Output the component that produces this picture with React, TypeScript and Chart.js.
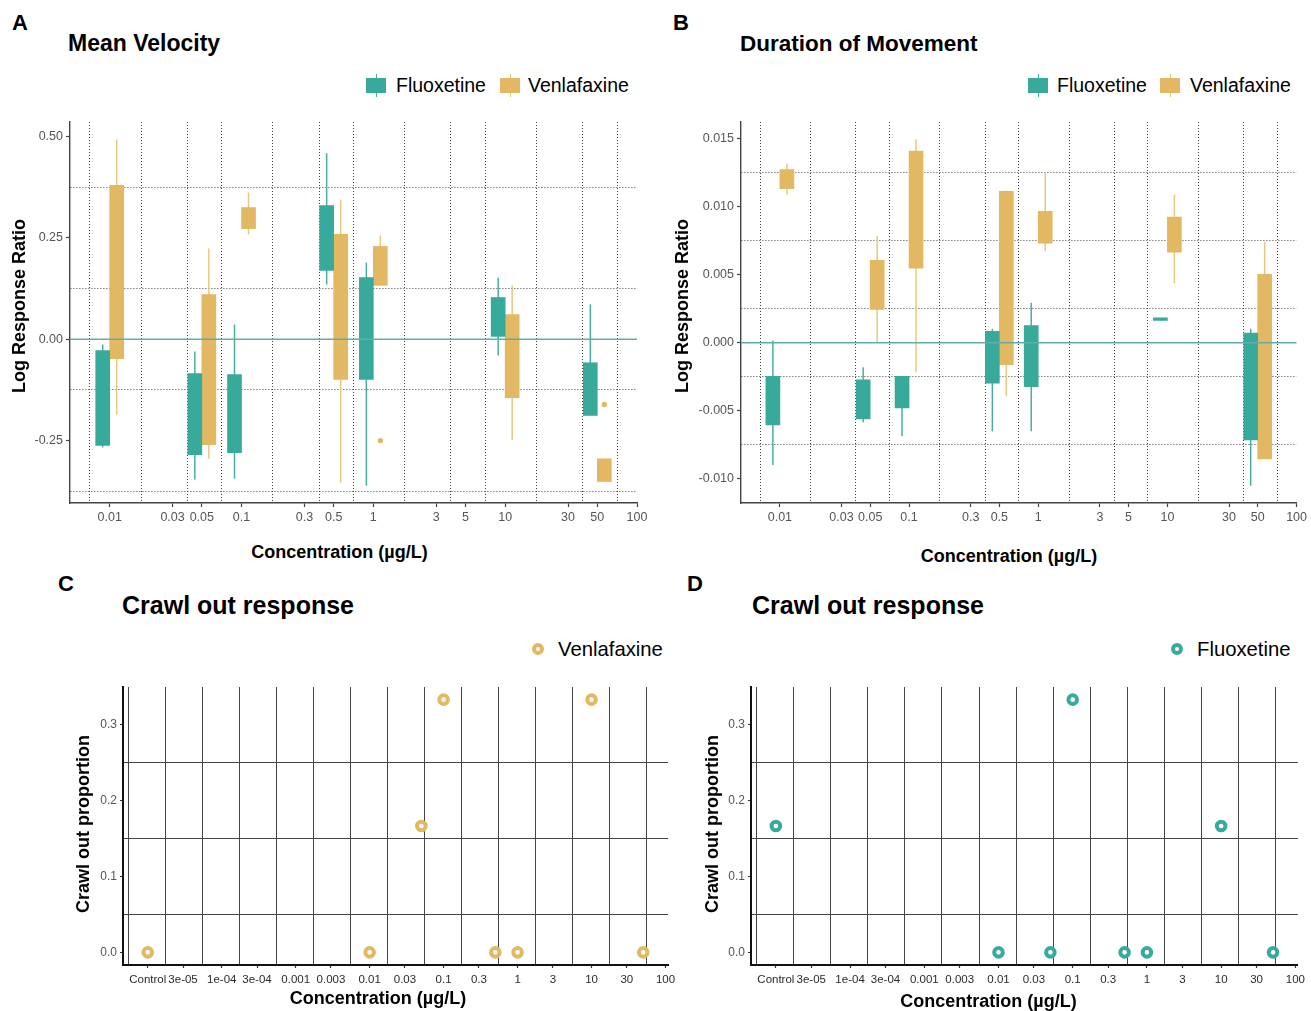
import React, { useEffect, useRef } from "react";
import { Chart, registerables } from "chart.js";

Chart.register(...registerables);

const FONT = "'Liberation Sans', Arial, Helvetica, sans-serif";
Chart.defaults.font.family = FONT;

const TEAL = "#38AA9C";
const GOLD = "#E2B962";
const TEAL_WHISKER = "#48AEA2";
const GOLD_WHISKER = "#E7C880";
const ZERO_LINE = "#5FAEA8";
const DOT_GRID = "#404040";
const SOLID_GRID = "#444444";

// ---------------- Data ----------------
const concentrations = [0.01, 0.05, 0.1, 0.5, 1, 10, 50];

// Panel A – Mean velocity: box = [lower hinge, upper hinge], whisker = [min, max]
const mvFluoxetineBox = [[-0.262, -0.028], [-0.285, -0.085], [-0.28, -0.087], [0.17, 0.33], [-0.099, 0.152], [0.007, 0.103], [-0.188, -0.058]];
const mvFluoxetineWhisker = [[-0.267, -0.013], [-0.346, -0.03], [-0.344, 0.036], [0.135, 0.459], [-0.361, 0.189], [-0.04, 0.152], [-0.188, 0.086]];
const mvFluoxetineOutliers = [[], [], [], [], [], [], []];
const mvVenlafaxineBox = [[-0.048, 0.38], [-0.26, 0.11], [0.273, 0.325], [-0.099, 0.259], [0.133, 0.229], [-0.144, 0.061], [-0.351, -0.295]];
const mvVenlafaxineWhisker = [[-0.186, 0.493], [-0.295, 0.224], [0.259, 0.362], [-0.354, 0.345], [0.133, 0.256], [-0.248, 0.133], [-0.351, -0.295]];
const mvVenlafaxineOutliers = [[], [], [], [], [-0.25], [], [-0.161]];

// Panel B – Duration of movement
const dmFluoxetineBox = [[-0.00604, -0.00246], [-0.0056, -0.00272], [-0.00479, -0.00246], [-0.00297, 0.00085], [-0.00322, 0.00127], [0.00164, 0.00184], [-0.00714, 0.00071]];
const dmFluoxetineWhisker = [[-0.00898, 0.00017], [-0.00585, -0.0018], [-0.00688, -0.00246], [-0.00651, 0.00103], [-0.00651, 0.00295], [0.00164, 0.00184], [-0.01051, 0.00103]];
const dmFluoxetineOutliers = [[], [], [], [], [], [], []];
const dmVenlafaxineBox = [[0.01134, 0.01274], [0.00245, 0.00606], [0.00549, 0.01411], [-0.0016, 0.01114], [0.00733, 0.00967], [0.00667, 0.00925], [-0.00854, 0.00503]];
const dmVenlafaxineWhisker = [[0.0109, 0.01318], [0.0, 0.00785], [-0.00216, 0.01497], [-0.00393, 0.01121], [0.00675, 0.01256], [0.00439, 0.0109], [-0.00854, 0.00741]];
const dmVenlafaxineOutliers = [[], [], [], [], [], [], []];

// Panels C & D – Crawl out proportion ("Control" is placed at 1e-5 on the log axis)
const crawlConcentrations = [1e-5, 0.01, 0.05, 0.1, 0.5, 1, 10, 50];
const crawlVenlafaxine = [0, 0, 0.1667, 0.3333, 0, 0, 0.3333, 0];
const crawlFluoxetine = [0.1667, 0, 0, 0.3333, 0, 0, 0.1667, 0];

// ---------------- Axis ticks ----------------
const logTicks = [0.01, 0.03, 0.05, 0.1, 0.3, 0.5, 1, 3, 5, 10, 30, 50, 100];
const logTickLabels = ["0.01", "0.03", "0.05", "0.1", "0.3", "0.5", "1", "3", "5", "10", "30", "50", "100"];
const logBreakBefore = 0.005;
const mvYTicks = [-0.25, 0, 0.25, 0.5];
const mvYTickLabels = ["-0.25", "0.00", "0.25", "0.50"];
const mvYMinor = [-0.375, -0.125, 0.125, 0.375];
const dmYTicks = [-0.01, -0.005, 0, 0.005, 0.01, 0.015];
const dmYTickLabels = ["-0.010", "-0.005", "0.000", "0.005", "0.010", "0.015"];
const dmYMinor = [-0.0075, -0.0025, 0.0025, 0.0075, 0.0125];
const crawlTicks = [1e-5, 3e-5, 1e-4, 3e-4, 0.001, 0.003, 0.01, 0.03, 0.1, 0.3, 1, 3, 10, 30, 100];
const crawlTickLabels = ["Control", "3e-05", "1e-04", "3e-04", "0.001", "0.003", "0.01", "0.03", "0.1", "0.3", "1", "3", "10", "30", "100"];
const crawlBreakBefore = 3e-6;
const crawlYTicks = [0, 0.1, 0.2, 0.3];
const crawlYTickLabels = ["0.0", "0.1", "0.2", "0.3"];
const crawlYMinor = [0.05, 0.15, 0.25];

// minor gridlines sit at geometric midpoints between breaks (log axis)
function geoMidpoints(breaks: number[], before: number) {
  const all = [before, ...breaks];
  const out: number[] = [];
  for (let i = 1; i < all.length; i++) out.push(Math.sqrt(all[i - 1] * all[i]));
  return out;
}

function mkTicks(major: number[], labels: string[], minor: number[]) {
  return [
    ...major.map((v, i) => ({ value: v, lab: labels[i] })),
    ...minor.map((v) => ({ value: v, lab: "" })),
  ].sort((a, b) => a.value - b.value);
}

function axis(o: any) {
  return {
    type: o.type,
    min: o.min,
    max: o.max,
    offset: false,
    afterBuildTicks: (s: any) => {
      s.ticks = o.ticks.map((t: any) => ({ ...t }));
    },
    afterFit: (s: any) => {
      if (o.horizontal) s.height = o.fit;
      else s.width = o.fit;
    },
    grid: {
      display: true,
      drawOnChartArea: true,
      offset: false,
      lineWidth: 1,
      color: (c: any) => (c.tick && c.tick.lab === "" ? o.gridColor : "rgba(0,0,0,0)"),
      drawTicks: true,
      tickLength: o.tickLen,
      tickWidth: 1.2,
      tickColor: (c: any) => (c.tick && c.tick.lab !== "" ? o.tickColor : "rgba(0,0,0,0)"),
    },
    border: { display: true, color: o.borderColor, width: o.borderWidth, dash: o.dash },
    ticks: {
      autoSkip: false,
      maxRotation: 0,
      minRotation: 0,
      padding: o.pad,
      color: o.labelColor,
      font: { size: o.labelSize, family: FONT },
      callback: (_v: any, i: number, arr: any[]) => (arr[i] && arr[i].lab) || "",
    },
  };
}

const boxExtras = {
  id: "boxExtras",
  beforeDatasetsDraw(chart: any) {
    const ctx = chart.ctx;
    const y = chart.scales.y;
    chart.data.datasets.forEach((ds: any, i: number) => {
      if (!ds.whiskers) return;
      const meta = chart.getDatasetMeta(i);
      ctx.save();
      ctx.strokeStyle = ds.whiskerColor;
      ctx.lineWidth = 1.5;
      meta.data.forEach((el: any, j: number) => {
        const w = ds.whiskers[j];
        if (!w) return;
        ctx.beginPath();
        ctx.moveTo(el.x, y.getPixelForValue(w[0]));
        ctx.lineTo(el.x, y.getPixelForValue(w[1]));
        ctx.stroke();
      });
      ctx.restore();
    });
  },
  afterDatasetsDraw(chart: any) {
    const ctx = chart.ctx;
    const y = chart.scales.y;
    const area = chart.chartArea;
    chart.data.datasets.forEach((ds: any, i: number) => {
      if (!ds.outliers) return;
      const meta = chart.getDatasetMeta(i);
      ctx.save();
      ctx.fillStyle = ds.backgroundColor;
      meta.data.forEach((el: any, j: number) => {
        (ds.outliers[j] || []).forEach((v: number) => {
          ctx.beginPath();
          ctx.arc(el.x, y.getPixelForValue(v), 2.7, 0, Math.PI * 2);
          ctx.fill();
        });
      });
      ctx.restore();
    });
    const y0 = y.getPixelForValue(0);
    ctx.save();
    ctx.strokeStyle = ZERO_LINE;
    ctx.lineWidth = 1.5;
    ctx.beginPath();
    ctx.moveTo(area.left, y0);
    ctx.lineTo(area.right, y0);
    ctx.stroke();
    ctx.restore();
  },
};

function boxConfig(p: any) {
  const mk = (label: string, box: number[][], wh: number[][], out: number[][], color: string, wcolor: string) => ({
    label,
    data: concentrations.map((c, i) => ({ x: c, y: box[i] })),
    backgroundColor: color,
    borderWidth: 0,
    barThickness: 14,
    whiskers: wh,
    whiskerColor: wcolor,
    outliers: out,
  });
  return {
    type: "bar",
    data: {
      datasets: [
        mk("Fluoxetine", p.fBox, p.fWh, p.fOut, TEAL, TEAL_WHISKER),
        mk("Venlafaxine", p.vBox, p.vWh, p.vOut, GOLD, GOLD_WHISKER),
      ],
    },
    options: {
      responsive: false,
      maintainAspectRatio: false,
      animation: false,
      events: [],
      layout: { padding: { left: 0, top: 12, right: p.padRight, bottom: 0 } },
      plugins: { legend: { display: false }, tooltip: { enabled: false }, title: { display: false } },
      scales: {
        x: axis({
          type: "logarithmic", min: 0.005, max: 100, horizontal: true, fit: 32,
          ticks: mkTicks(logTicks, logTickLabels, geoMidpoints(logTicks, logBreakBefore)),
          gridColor: DOT_GRID, dash: [1, 2], borderColor: "#444", borderWidth: 1.4,
          tickColor: "#444", tickLen: 4, pad: 3, labelColor: "#555", labelSize: 12.5,
        }),
        y: axis({
          type: "linear", min: p.yMin, max: p.yMax, horizontal: false, fit: p.yWidth,
          ticks: mkTicks(p.yTicks, p.yLabels, p.yMinor),
          gridColor: DOT_GRID, dash: [1, 2], borderColor: "#444", borderWidth: 1.4,
          tickColor: "#444", tickLen: 4, pad: 3, labelColor: "#555", labelSize: 12.5,
        }),
      },
    },
    plugins: [boxExtras],
  };
}

function crawlConfig(label: string, values: number[], color: string, yWidth: number, padRight: number) {
  return {
    type: "scatter",
    data: {
      datasets: [
        {
          label,
          data: crawlConcentrations.map((c, i) => ({ x: c, y: values[i] })),
          pointRadius: 4.3,
          pointBorderWidth: 4,
          pointBackgroundColor: "#ffffff",
          pointBorderColor: color,
          showLine: false,
        },
      ],
    },
    options: {
      responsive: false,
      maintainAspectRatio: false,
      animation: false,
      events: [],
      layout: { padding: { left: 0, top: 12, right: padRight, bottom: 0 } },
      plugins: { legend: { display: false }, tooltip: { enabled: false }, title: { display: false } },
      scales: {
        x: axis({
          type: "logarithmic", min: 4.624e-6, max: 108.1, horizontal: true, fit: 30,
          ticks: mkTicks(crawlTicks, crawlTickLabels, geoMidpoints(crawlTicks, crawlBreakBefore)),
          gridColor: SOLID_GRID, dash: [], borderColor: "#111", borderWidth: 2,
          tickColor: "#333", tickLen: 3, pad: 5, labelColor: "#2a2a2a", labelSize: 11.5,
        }),
        y: axis({
          type: "linear", min: -0.0167, max: 0.35, horizontal: false, fit: yWidth,
          ticks: mkTicks(crawlYTicks, crawlYTickLabels, crawlYMinor),
          gridColor: SOLID_GRID, dash: [], borderColor: "#111", borderWidth: 2,
          tickColor: "#333", tickLen: 3, pad: 3, labelColor: "#555", labelSize: 12,
        }),
      },
    },
  };
}

function ChartBox({ left, top, width, height, make }: any) {
  const ref = useRef<HTMLCanvasElement>(null);
  useEffect(() => {
    const chart = new Chart(ref.current as HTMLCanvasElement, make());
    return () => chart.destroy();
  }, []);
  return <canvas ref={ref} width={width} height={height} style={{ position: "absolute", left, top, width, height }} />;
}

function Txt({ x, base, size, bold, center, color, children }: any) {
  return (
    <div
      style={{
        position: "absolute",
        left: x,
        top: base - 0.8465 * size,
        fontSize: size,
        lineHeight: size + "px",
        fontFamily: FONT,
        fontWeight: bold ? 700 : 400,
        whiteSpace: "nowrap",
        color: color || "#000",
        transform: center ? "translateX(-50%)" : undefined,
      }}
    >
      {children}
    </div>
  );
}

function VTxt({ cx, cy, size, children }: any) {
  return (
    <div
      style={{
        position: "absolute",
        left: cx,
        top: cy,
        fontSize: size,
        lineHeight: size + "px",
        fontFamily: FONT,
        fontWeight: 700,
        whiteSpace: "nowrap",
        color: "#000",
        transform: "translate(-50%,-50%) rotate(-90deg)",
      }}
    >
      {children}
    </div>
  );
}

function BoxKey({ x, y, color, whisker }: any) {
  return (
    <>
      <div style={{ position: "absolute", left: x + 9.5, top: y - 4, width: 1.2, height: 23, background: whisker }} />
      <div style={{ position: "absolute", left: x, top: y, width: 20, height: 15, background: color }} />
    </>
  );
}

function RingKey({ cx, cy, color }: any) {
  return (
    <div
      style={{
        position: "absolute",
        left: cx - 6,
        top: cy - 6,
        width: 12,
        height: 12,
        boxSizing: "border-box",
        borderRadius: "50%",
        border: `4px solid ${color}`,
        background: "#fff",
      }}
    />
  );
}

export default function App() {
  return (
    <div style={{ position: "absolute", left: 0, top: 0, width: 1311, height: 1011, background: "#fff", overflow: "hidden" }}>
      <ChartBox
        left={0} top={110} width={660} height={425}
        make={() =>
          boxConfig({
            fBox: mvFluoxetineBox, fWh: mvFluoxetineWhisker, fOut: mvFluoxetineOutliers,
            vBox: mvVenlafaxineBox, vWh: mvVenlafaxineWhisker, vOut: mvVenlafaxineOutliers,
            yMin: -0.404, yMax: 0.536, yTicks: mvYTicks, yLabels: mvYTickLabels, yMinor: mvYMinor,
            yWidth: 70, padRight: 23,
          })
        }
      />
      <ChartBox
        left={670} top={110} width={640} height={425}
        make={() =>
          boxConfig({
            fBox: dmFluoxetineBox, fWh: dmFluoxetineWhisker, fOut: dmFluoxetineOutliers,
            vBox: dmVenlafaxineBox, vWh: dmVenlafaxineWhisker, vOut: dmVenlafaxineOutliers,
            yMin: -0.01178, yMax: 0.01624, yTicks: dmYTicks, yLabels: dmYTickLabels, yMinor: dmYMinor,
            yWidth: 71, padRight: 12,
          })
        }
      />
      <ChartBox left={60} top={675} width={630} height={320} make={() => crawlConfig("Venlafaxine", crawlVenlafaxine, GOLD, 63, 22)} />
      <ChartBox left={690} top={675} width={620} height={320} make={() => crawlConfig("Fluoxetine", crawlFluoxetine, TEAL, 61, 12)} />

      {/* panel letters */}
      <Txt x={12} base={31} size={22} bold>A</Txt>
      <Txt x={673} base={31} size={22} bold>B</Txt>
      <Txt x={58} base={592} size={22} bold>C</Txt>
      <Txt x={687} base={592} size={22} bold>D</Txt>

      {/* titles */}
      <Txt x={68} base={51.5} size={23} bold>Mean Velocity</Txt>
      <Txt x={740} base={52} size={22.5} bold>Duration of Movement</Txt>
      <Txt x={122} base={614} size={25} bold>Crawl out response</Txt>
      <Txt x={752} base={614} size={25} bold>Crawl out response</Txt>

      {/* legends */}
      <BoxKey x={366} y={78} color={TEAL} whisker={TEAL_WHISKER} />
      <Txt x={396} base={93} size={19.5}>Fluoxetine</Txt>
      <BoxKey x={500} y={78} color={GOLD} whisker={GOLD_WHISKER} />
      <Txt x={528} base={93} size={19.5}>Venlafaxine</Txt>

      <BoxKey x={1028} y={78} color={TEAL} whisker={TEAL_WHISKER} />
      <Txt x={1057} base={93} size={19.5}>Fluoxetine</Txt>
      <BoxKey x={1160} y={78} color={GOLD} whisker={GOLD_WHISKER} />
      <Txt x={1190} base={93} size={19.5}>Venlafaxine</Txt>

      <RingKey cx={538} cy={649} color={GOLD} />
      <Txt x={558} base={656} size={20.3}>Venlafaxine</Txt>
      <RingKey cx={1177} cy={649} color={TEAL} />
      <Txt x={1197} base={656} size={20.3}>Fluoxetine</Txt>

      {/* axis titles */}
      <Txt x={339.5} base={558} size={18} bold center>Concentration (µg/L)</Txt>
      <Txt x={1009} base={562} size={18} bold center>Concentration (µg/L)</Txt>
      <Txt x={378} base={1004} size={18} bold center>Concentration (µg/L)</Txt>
      <Txt x={988.5} base={1007} size={18} bold center>Concentration (µg/L)</Txt>

      <VTxt cx={19} cy={306} size={18}>Log Response Ratio</VTxt>
      <VTxt cx={682} cy={306} size={18}>Log Response Ratio</VTxt>
      <VTxt cx={83} cy={824} size={18}>Crawl out proportion</VTxt>
      <VTxt cx={712} cy={824} size={18}>Crawl out proportion</VTxt>
    </div>
  );
}
